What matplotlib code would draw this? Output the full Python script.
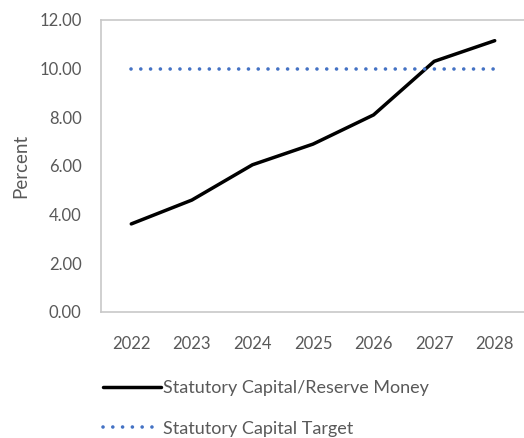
import matplotlib
matplotlib.use("Agg")
import matplotlib.pyplot as plt

plt.rcParams['font.family'] = ['Lato', 'DejaVu Sans']

years = ["2022", "2023", "2024", "2025", "2026", "2027", "2028"]
capital_ratio = [3.62, 4.60, 6.05, 6.90, 8.10, 10.30, 11.15]
capital_target = [10.0, 10.0, 10.0, 10.0, 10.0, 10.0, 10.0]

grey = "#595959"

fig = plt.figure(figsize=(5.24, 4.38), dpi=100)
ax = fig.add_axes([101 / 524, 1 - 312 / 438, 424 / 524, 292 / 438])

x = range(len(years))
ax.plot(x, capital_ratio, color="black", lw=2.5, solid_capstyle="round",
        label="Statutory Capital/Reserve Money")
ax.plot(x, capital_target, color="#4472C4", lw=2.6,
        linestyle=(0, (0.01, 2.7)), dash_capstyle="round",
        label="Statutory Capital Target")

ax.set_xlim(-0.5, len(years) - 0.5)
ax.set_ylim(0, 12)
ax.set_yticks([0, 2, 4, 6, 8, 10, 12])
ax.set_yticklabels([f"{v:.2f}" for v in [0, 2, 4, 6, 8, 10, 12]])
ax.set_xticks(list(x))
ax.set_xticklabels(years)
ax.tick_params(length=0, labelsize=12, labelcolor=grey)
ax.tick_params(axis="y", pad=14)
ax.tick_params(axis="x", pad=17)
for s in ax.spines.values():
    s.set_color("#c8c8c8")
    s.set_linewidth(1.2)

ax.set_ylabel("Percent", fontsize=13.5, color=grey, labelpad=7)

ax.legend(loc="upper left", bbox_to_anchor=(103 / 524, 1 - 380 / 438),
          bbox_transform=fig.transFigure, frameon=False, fontsize=13,
          handlelength=3.2, handletextpad=0.15, labelspacing=1.37,
          labelcolor=grey, borderaxespad=0, borderpad=0)

fig.savefig("out.png", dpi=100)
